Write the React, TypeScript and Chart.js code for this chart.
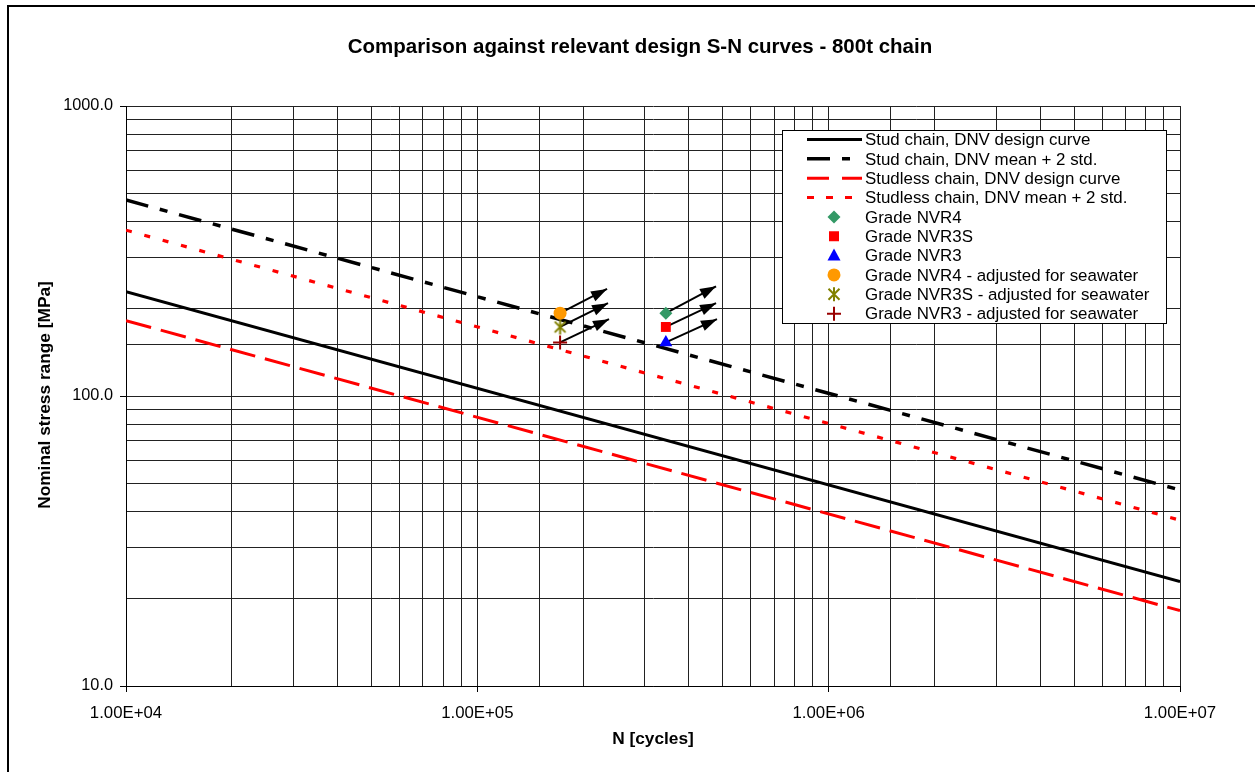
import React, { useEffect, useRef } from 'react';
import { Chart, registerables } from 'chart.js';

Chart.register(...registerables);

// ---------- text ----------
const TITLE = 'Comparison against relevant design S-N curves - 800t chain';
const X_TITLE = 'N [cycles]';
const Y_TITLE = 'Nominal stress range [MPa]';

// ---------- axis ----------
const X_MIN = 1e4;
const X_MAX = 1e7;
const Y_MIN = 10;
const Y_MAX = 1000;

// ---------- S-N curves (end points) ----------
const curveN = [1e4, 1e7];
const studDesign = [229, 22.9];
const studMean2Std = [474, 47.4];
const studlessDesign = [182, 18.2];
const studlessMean2Std = [373, 37.3];

// ---------- test results ----------
const testN = [344000];
const adjustedN = [172000];
const nvr4 = [193];
const nvr3s = [173];
const nvr3 = [153];

// ---------- arrows (start = test point, tip) ----------
const arrowStartN = [172000, 172000, 172000, 344000, 344000, 344000];
const arrowStartS = [193, 173, 153, 193, 173, 153];
const arrowTipN = [234000, 235500, 237000, 478000, 478000, 481000];
const arrowTipS = [234, 209, 184, 239, 209, 184];

const FONT = '"Liberation Sans", Arial, Helvetica, sans-serif';

function makeStar(color: string, size: number, lw: number) {
  const c = document.createElement('canvas');
  c.width = size;
  c.height = size;
  const g = c.getContext('2d')!;
  g.strokeStyle = color;
  g.lineWidth = lw;
  const m = size / 2;
  const r = size / 2 - 1;
  const d = r * 0.72;
  g.beginPath();
  g.moveTo(m - d, m - d);
  g.lineTo(m + d, m + d);
  g.moveTo(m + d, m - d);
  g.lineTo(m - d, m + d);
  g.moveTo(m, m - r);
  g.lineTo(m, m + r);
  g.stroke();
  return c;
}

const isMajor = (v: number) => {
  const l = Math.log10(v);
  return Math.abs(l - Math.round(l)) < 1e-9;
};
const fmtX = (v: number) => {
  const e = Math.round(Math.log10(v));
  return '1.00E+' + String(e).padStart(2, '0');
};

function pts(xs: number[], ys: number[]) {
  return xs.map((x, i) => ({ x, y: ys[i] }));
}

type LegendItem = {
  label: string;
  kind: 'line' | 'point';
  color: string;
  dash?: number[];
  width?: number;
  shape?: string;
};

const GREEN = '#339966';
const RED = '#FF0000';
const BLUE = '#0000FF';
const ORANGE = '#FF9900';
const OLIVE = '#808000';
const MAROON = '#990000';

const legendItems: LegendItem[] = [
  { label: 'Stud chain, DNV design curve', kind: 'line', color: '#000', dash: [], width: 3 },
  { label: 'Stud chain, DNV mean + 2 std.', kind: 'line', color: '#000', dash: [23, 12, 8, 12], width: 3.5 },
  { label: 'Studless chain, DNV design curve', kind: 'line', color: RED, dash: [22, 13], width: 3 },
  { label: 'Studless chain, DNV mean + 2 std.', kind: 'line', color: RED, dash: [7, 12], width: 3 },
  { label: 'Grade NVR4', kind: 'point', color: GREEN, shape: 'diamond' },
  { label: 'Grade NVR3S', kind: 'point', color: RED, shape: 'square' },
  { label: 'Grade NVR3', kind: 'point', color: BLUE, shape: 'triangle' },
  { label: 'Grade NVR4 - adjusted for seawater', kind: 'point', color: ORANGE, shape: 'circle' },
  { label: 'Grade NVR3S - adjusted for seawater', kind: 'point', color: OLIVE, shape: 'star' },
  { label: 'Grade NVR3 - adjusted for seawater', kind: 'point', color: MAROON, shape: 'plus' },
];

function drawMarker(ctx: CanvasRenderingContext2D, shape: string, x: number, y: number, color: string) {
  ctx.save();
  ctx.fillStyle = color;
  ctx.strokeStyle = color;
  ctx.setLineDash([]);
  ctx.beginPath();
  if (shape === 'diamond') {
    const r = 6.5;
    ctx.moveTo(x, y - r);
    ctx.lineTo(x + r, y);
    ctx.lineTo(x, y + r);
    ctx.lineTo(x - r, y);
    ctx.closePath();
    ctx.fill();
  } else if (shape === 'square') {
    ctx.rect(x - 5, y - 5, 10, 10);
    ctx.fill();
  } else if (shape === 'triangle') {
    ctx.moveTo(x, y - 7);
    ctx.lineTo(x + 6.5, y + 5);
    ctx.lineTo(x - 6.5, y + 5);
    ctx.closePath();
    ctx.fill();
  } else if (shape === 'circle') {
    ctx.arc(x, y, 6.5, 0, Math.PI * 2);
    ctx.fill();
  } else if (shape === 'star') {
    const d = 5.5;
    ctx.lineWidth = 2;
    ctx.moveTo(x - d, y - d);
    ctx.lineTo(x + d, y + d);
    ctx.moveTo(x + d, y - d);
    ctx.lineTo(x - d, y + d);
    ctx.moveTo(x, y - 7);
    ctx.lineTo(x, y + 7);
    ctx.stroke();
  } else if (shape === 'plus') {
    ctx.lineWidth = 2;
    ctx.moveTo(x - 7, y);
    ctx.lineTo(x + 7, y);
    ctx.moveTo(x, y - 7);
    ctx.lineTo(x, y + 7);
    ctx.stroke();
  }
  ctx.restore();
}

const overlayPlugin = {
  id: 'overlay',
  afterDatasetsDraw(chart: any) {
    const ctx: CanvasRenderingContext2D = chart.ctx;
    ctx.save();
    chart.data.datasets.forEach((ds: any, i: number) => {
      if (!ds.isArrow) return;
      const meta = chart.getDatasetMeta(i);
      const a = meta.data[0];
      const b = meta.data[1];
      const ang = Math.atan2(b.y - a.y, b.x - a.x);
      const L = 16;
      const W = 5.5;
      const c = Math.cos(ang);
      const s = Math.sin(ang);
      ctx.fillStyle = '#000';
      ctx.beginPath();
      ctx.moveTo(b.x, b.y);
      ctx.lineTo(b.x - L * c + W * s, b.y - L * s - W * c);
      ctx.lineTo(b.x - L * c - W * s, b.y - L * s + W * c);
      ctx.closePath();
      ctx.fill();
    });
    ctx.restore();
  },
  afterDraw(chart: any) {
    const ctx: CanvasRenderingContext2D = chart.ctx;
    const area = chart.chartArea;
    ctx.save();
    // outer border
    ctx.strokeStyle = '#000';
    ctx.lineWidth = 2;
    ctx.strokeRect(8, 6, 1300, 820);

    // title
    ctx.fillStyle = '#000';
    ctx.textAlign = 'center';
    ctx.textBaseline = 'middle';
    ctx.font = `bold 20.5px ${FONT}`;
    ctx.fillText(TITLE, 640, 47);

    // axis titles
    ctx.font = `bold 17.3px ${FONT}`;
    ctx.fillText(X_TITLE, 653, 739);
    ctx.save();
    ctx.translate(45, 395);
    ctx.rotate(-Math.PI / 2);
    ctx.fillText(Y_TITLE, 0, 0);
    ctx.restore();

    // legend
    const bx = 782, by = 130, bw = 384, bh = 193;
    ctx.fillStyle = '#fff';
    ctx.fillRect(bx, by, bw, bh);
    ctx.strokeStyle = '#000';
    ctx.lineWidth = 1;
    ctx.setLineDash([]);
    ctx.strokeRect(bx + 0.5, by + 0.5, bw, bh);
    const y0 = 139.5;
    const step = 19.35;
    ctx.font = `16.9px ${FONT}`;
    ctx.textAlign = 'left';
    ctx.textBaseline = 'middle';
    legendItems.forEach((it, i) => {
      const y = y0 + i * step;
      if (it.kind === 'line') {
        ctx.save();
        ctx.strokeStyle = it.color;
        ctx.lineWidth = it.width || 3;
        ctx.setLineDash(it.dash || []);
        ctx.beginPath();
        ctx.moveTo(807, y);
        ctx.lineTo(862, y);
        ctx.stroke();
        ctx.restore();
      } else {
        drawMarker(ctx, it.shape!, 834, y, it.color);
      }
      ctx.fillStyle = '#000';
      ctx.fillText(it.label, 865, y + 1);
    });
    ctx.restore();
  },
};

export default function App() {
  const ref = useRef<HTMLCanvasElement>(null);

  useEffect(() => {
    document.body.style.margin = '0';
    const starImg = makeStar(OLIVE, 17, 2);

    const lineDs = (label: string, ys: number[], color: string, dash: number[], width: number) => ({
      label,
      data: pts(curveN, ys),
      showLine: true,
      borderColor: color,
      backgroundColor: color,
      borderWidth: width,
      borderDash: dash,
      pointRadius: 0,
      fill: false,
      order: 10,
    });

    const pointDs = (label: string, xs: number[], ys: number[], color: string, style: any, radius: number, extra: any = {}) => ({
      label,
      data: pts(xs, ys),
      showLine: false,
      pointStyle: style,
      pointRadius: radius,
      backgroundColor: color,
      borderColor: color,
      borderWidth: 0,
      order: 0,
      ...extra,
    });

    const arrowDs = arrowStartN.map((n, i) => ({
      label: 'arrow' + i,
      isArrow: true,
      data: pts([n, arrowTipN[i]], [arrowStartS[i], arrowTipS[i]]),
      showLine: true,
      borderColor: '#000',
      borderWidth: 2,
      pointRadius: 0,
      fill: false,
      order: 5,
    }));

    const chart = new Chart(ref.current!, {
      type: 'scatter',
      data: {
        datasets: [
          pointDs('Grade NVR4', testN, nvr4, GREEN, 'rectRot', 6.5),
          pointDs('Grade NVR3S', testN, nvr3s, RED, 'rect', 7),
          pointDs('Grade NVR3', testN, nvr3, BLUE, 'triangle', 7.5),
          pointDs('Grade NVR4 - adjusted for seawater', adjustedN, nvr4, ORANGE, 'circle', 6.5),
          pointDs('Grade NVR3S - adjusted for seawater', adjustedN, nvr3s, OLIVE, starImg, 8),
          pointDs('Grade NVR3 - adjusted for seawater', adjustedN, nvr3, MAROON, 'cross', 7, { borderWidth: 2 }),
          ...arrowDs,
          lineDs('Stud chain, DNV design curve', studDesign, '#000', [], 3),
          lineDs('Stud chain, DNV mean + 2 std.', studMean2Std, '#000', [23, 12, 8, 12], 3.5),
          lineDs('Studless chain, DNV design curve', studlessDesign, RED, [26, 10], 3),
          lineDs('Studless chain, DNV mean + 2 std.', studlessMean2Std, RED, [6, 13], 3.2),
        ] as any,
      },
      options: {
        animation: false,
        responsive: false,
        devicePixelRatio: 1,
        layout: { padding: { left: 0, right: 75, top: 106, bottom: 0 } },
        plugins: {
          legend: { display: false },
          title: { display: false },
          tooltip: { enabled: false },
        },
        scales: {
          x: {
            type: 'logarithmic',
            min: X_MIN,
            max: X_MAX,
            afterFit: (s: any) => {
              s.height = 86;
            },
            grid: {
              color: '#222',
              lineWidth: 1,
              drawTicks: true,
              tickLength: 6,
              tickColor: (c: any) => (c.tick && isMajor(c.tick.value) ? '#000' : 'rgba(0,0,0,0)'),
            },
            border: { color: '#000', width: 1 },
            ticks: {
              autoSkip: false,
              maxRotation: 0,
              minRotation: 0,
              color: '#000',
              padding: 11,
              font: { family: FONT, size: 16.8 },
              callback: (v: any) => (isMajor(Number(v)) ? fmtX(Number(v)) : ''),
            },
          },
          y: {
            type: 'logarithmic',
            min: Y_MIN,
            max: Y_MAX,
            afterFit: (s: any) => {
              s.width = 126;
            },
            grid: {
              color: '#222',
              lineWidth: 1,
              drawTicks: true,
              tickLength: 6,
              tickColor: (c: any) => (c.tick && isMajor(c.tick.value) ? '#000' : 'rgba(0,0,0,0)'),
            },
            border: { color: '#000', width: 1 },
            ticks: {
              autoSkip: false,
              color: '#000',
              padding: 7,
              font: { family: FONT, size: 16.3 },
              callback: (v: any) => (isMajor(Number(v)) ? Number(v).toFixed(1) : ''),
            },
          },
        },
      } as any,
      plugins: [overlayPlugin],
    });

    return () => chart.destroy();
  }, []);

  return (
    <div style={{ width: 1255, height: 772, background: '#fff' }}>
      <canvas ref={ref} width={1255} height={772} style={{ display: 'block' }} />
    </div>
  );
}
